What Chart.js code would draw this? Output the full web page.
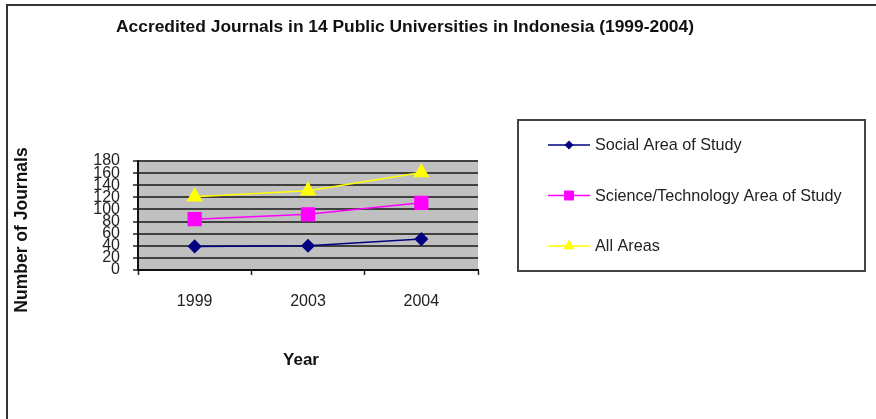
<!DOCTYPE html>
<html>
<head>
<meta charset="utf-8">
<script src="https://cdn.jsdelivr.net/npm/chart.js@4/dist/chart.umd.min.js"></script>
<style>
  html, body { margin: 0; padding: 0; background: #fff; }
  #wrap { width: 876px; height: 419px; }
</style>
</head>
<body>
<div id="wrap"><canvas id="journalsChart" width="876" height="419"></canvas></div>
<script>
// Chart data
const years = ["1999", "2003", "2004"]
const socialArea = [39, 40, 51]
const scienceTechArea = [84, 92, 111]
const allAreas = [121, 131, 161]
const yMin = 0
const yMax = 180
const yStep = 20

const FONT = "'Liberation Sans', Arial, sans-serif"

// Frame, plot background, title, axis titles and legend box
const decorations = {
  id: "decorations",
  beforeDraw(chart) {
    const { ctx, chartArea } = chart
    ctx.save()
    ctx.fillStyle = "#fff"
    ctx.fillRect(0, 0, chart.width, chart.height)
    ctx.strokeStyle = "#333"
    ctx.lineWidth = 2
    ctx.beginPath()
    ctx.moveTo(7, chart.height)
    ctx.lineTo(7, 5)
    ctx.lineTo(chart.width, 5)
    ctx.stroke()
    ctx.fillStyle = "#c0c0c0"
    ctx.fillRect(chartArea.left, chartArea.top, chartArea.right - chartArea.left, chartArea.bottom - chartArea.top)
    ctx.restore()
  },
  afterDraw(chart) {
    const { ctx } = chart
    ctx.save()
    ctx.fillStyle = "#111"
    ctx.textAlign = "center"
    ctx.textBaseline = "middle"
    ctx.font = "bold 17.4px " + FONT
    ctx.fillText("Accredited Journals in 14 Public Universities in Indonesia (1999-2004)", 405, 27)

    // axis titles
    ctx.font = "bold 17px " + FONT
    ctx.fillText("Year", 301, 360)
    ctx.save()
    ctx.translate(22, 230)
    ctx.rotate(-Math.PI / 2)
    ctx.font = "bold 17.5px " + FONT
    ctx.fillText("Number of Journals", 0, 0)
    ctx.restore()

    // legend
    ctx.strokeStyle = "#444"
    ctx.lineWidth = 2
    ctx.strokeRect(518, 120, 347, 151)
    ctx.font = "16.2px " + FONT
    ctx.textAlign = "left"
    const legendRadius = [4.5, 7, 6.5]
    chart.data.datasets.forEach((ds, i) => {
      const y = 145 + i * 50.5
      ctx.strokeStyle = ds.borderColor
      ctx.lineWidth = 1.5
      ctx.beginPath()
      ctx.moveTo(548, y)
      ctx.lineTo(590, y)
      ctx.stroke()
      ctx.fillStyle = ds.backgroundColor
      Chart.helpers.drawPoint(ctx, { pointStyle: ds.pointStyle, radius: legendRadius[i], rotation: 0, borderWidth: 0 }, 569, y)
      ctx.fillStyle = "#222"
      ctx.fillText(ds.label, 595, y + 1)
    })
    ctx.restore()
  },
}

new Chart(document.getElementById("journalsChart"), {
  type: "line",
  data: {
    labels: years,
    datasets: [
      {
        label: "Social Area of Study",
        data: socialArea,
        borderColor: "#000080",
        backgroundColor: "#000080",
        borderWidth: 1.5,
        pointStyle: "rectRot",
        pointRadius: 6,
        tension: 0,
      },
      {
        label: "Science/Technology Area of Study",
        data: scienceTechArea,
        borderColor: "#ff00ff",
        backgroundColor: "#ff00ff",
        borderWidth: 1.5,
        pointStyle: "rect",
        pointRadius: 9,
        tension: 0,
      },
      {
        label: "All Areas",
        data: allAreas,
        borderColor: "#ffff00",
        backgroundColor: "#ffff00",
        borderWidth: 1.5,
        pointStyle: "triangle",
        pointRadius: 8,
        tension: 0,
      },
    ],
  },
  options: {
    responsive: false,
    animation: false,
    layout: { padding: { left: 0, top: 161, right: 398, bottom: 49 } },
    plugins: {
      legend: { display: false },
      title: { display: false },
      tooltip: { enabled: false },
    },
    scales: {
      x: {
        offset: true,
        grid: { offset: true, drawOnChartArea: false, drawTicks: true, tickLength: 5, color: "#222", tickWidth: 1.5 },
        border: { color: "#111", width: 2 },
        ticks: { color: "#222", font: { family: FONT, size: 16 }, padding: 17, maxRotation: 0 },
        afterFit(scale) { scale.height = 100 },
      },
      y: {
        min: yMin,
        max: yMax,
        grid: { color: "#404040", lineWidth: 2, tickLength: 5, tickColor: "#222", tickWidth: 1.5 },
        border: { color: "#111", width: 2 },
        ticks: { stepSize: yStep, autoSkip: false, color: "#222", font: { family: FONT, size: 16 }, padding: 13 },
        afterFit(scale) { scale.width = 138 },
      },
    },
  },
  plugins: [decorations],
})
</script>
</body>
</html>
